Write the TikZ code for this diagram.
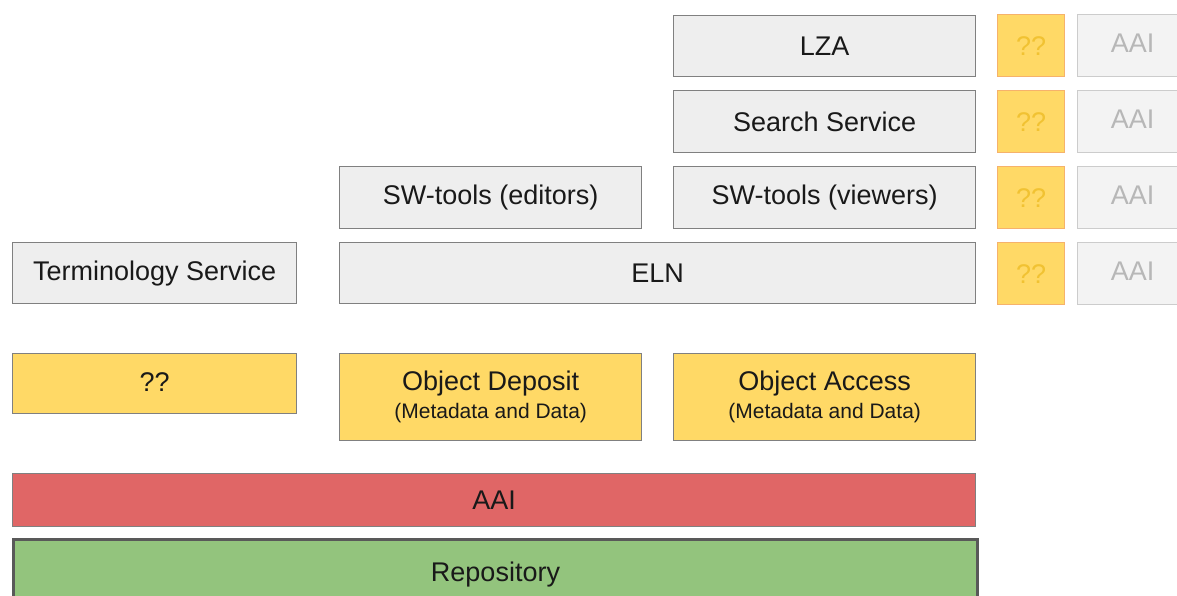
\documentclass[tikz,border=0pt]{standalone}
\usepackage{fontspec}
\setmainfont{Liberation Sans}
\definecolor{boxgray}{HTML}{EEEEEE}
\definecolor{edgegray}{HTML}{808080}
\definecolor{boxyellow}{HTML}{FFD966}
\definecolor{paleyellowedge}{HTML}{F6B26B}
\definecolor{paleyellowtext}{HTML}{F1C232}
\definecolor{palegray}{HTML}{F3F3F3}
\definecolor{palegrayedge}{HTML}{CCCCCC}
\definecolor{palegraytext}{HTML}{B7B7B7}
\definecolor{aaired}{HTML}{E06666}
\definecolor{repogreen}{HTML}{93C47D}
\definecolor{repoedge}{HTML}{595959}
\begin{document}
\begin{tikzpicture}[x=1pt,y=1pt,
  base/.style={rectangle, anchor=north west, inner sep=0pt, line width=1.3pt,
    font=\fontsize{27}{32}\selectfont, text=black!90},
  service/.style={base, draw=edgegray, fill=boxgray},
  api/.style={base, draw=edgegray, fill=boxyellow, align=center},
  openq/.style={base, draw=paleyellowedge, fill=boxyellow, text=paleyellowtext,
    minimum width=67pt, minimum height=62pt},
  authz/.style={base, draw=palegrayedge, fill=palegray, text=palegraytext,
    minimum width=110pt, minimum height=62pt},
  sub/.style={font=\fontsize{21}{24}\selectfont}
]
\useasboundingbox (0,0) rectangle (1177,-595);

% service layers
\node[service, minimum width=302pt, minimum height=61pt] (lza) at (673,-15) {LZA};
\node[service, minimum width=302pt, minimum height=62pt] (search) at (673,-90) {Search Service};
\node[service, minimum width=302pt, minimum height=62pt] (editors) at (339,-166) {SW-tools (editors)};
\node[service, minimum width=302pt, minimum height=62pt] (viewers) at (673,-166) {SW-tools (viewers)};
\node[service, minimum width=284pt, minimum height=61pt] (term) at (12,-242) {Terminology Service};
\node[service, minimum width=636pt, minimum height=61pt] (eln) at (339,-242) {ELN};

% open questions and AAI per service row
\foreach \y/\n in {14/1,90/2,166/3,242/4}{
  \node[openq] (q\n) at (997,-\y) {??};
  \node[authz] (a\n) at (1077,-\y) {\raisebox{5pt}{AAI}};
}

% interfaces
\node[api, minimum width=284pt, minimum height=60pt] (qq) at (12,-353) {\raisebox{3pt}{??}};
\node[api, minimum width=302pt, minimum height=87pt] (deposit) at (339,-353)
  {Object Deposit\\[-4pt]{\fontsize{21}{24}\selectfont (Metadata and Data)}};
\node[api, minimum width=302pt, minimum height=87pt] (access) at (673,-353)
  {Object Access\\[-4pt]{\fontsize{21}{24}\selectfont (Metadata and Data)}};

% base layers
\node[base, draw=edgegray, fill=aaired, minimum width=963pt, minimum height=53pt] (aai) at (12,-473) {AAI};
\node[base, draw=repoedge, line width=3pt, fill=repogreen, minimum width=964pt, minimum height=66pt,
  text depth=0pt] (repo) at (12,-538) {\raisebox{2pt}{Repository}};
\end{tikzpicture}
\end{document}
